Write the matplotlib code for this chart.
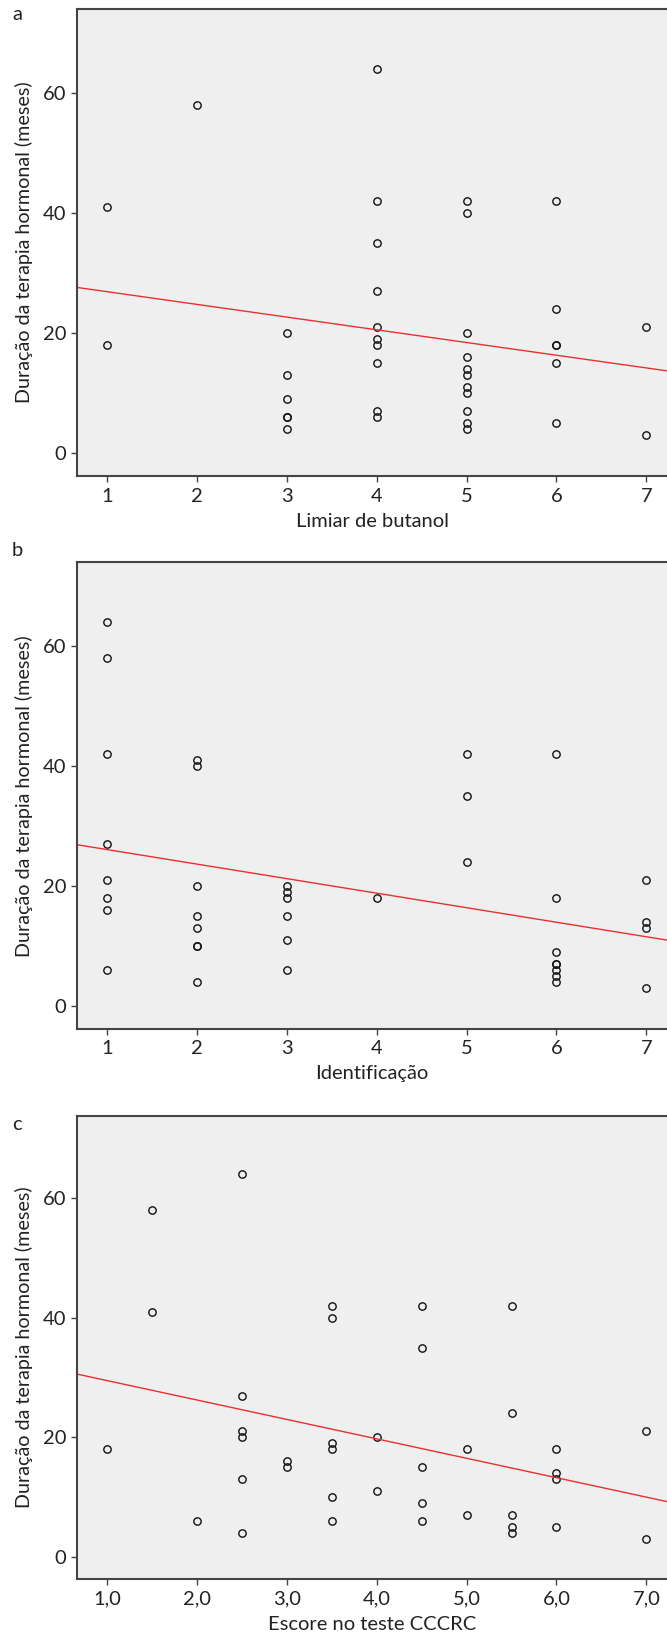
import numpy as np
import matplotlib
matplotlib.use("Agg")
import matplotlib.pyplot as plt

# panel a: Limiar de butanol
a_x = [1, 1, 2, 3, 3, 3, 3, 3, 3,
       4, 4, 4, 4, 4, 4, 4, 4, 4, 4,
       5, 5, 5, 5, 5, 5, 5, 5, 5, 5, 5,
       6, 6, 6, 6, 6, 6, 7, 7]
a_y = [41, 18, 58, 20, 13, 9, 6, 6, 4,
       64, 42, 35, 27, 21, 19, 18, 15, 7, 6,
       42, 40, 20, 16, 14, 13, 11, 10, 7, 5, 4,
       42, 24, 18, 18, 15, 5, 21, 3]

# panel b: Identificação
b_x = [1, 1, 1, 1, 1, 1, 1, 1,
       2, 2, 2, 2, 2, 2, 2, 2,
       3, 3, 3, 3, 3, 3, 4, 5, 5, 5,
       6, 6, 6, 6, 6, 6, 6, 6, 7, 7, 7, 7]
b_y = [64, 58, 42, 27, 21, 18, 16, 6,
       41, 40, 20, 15, 13, 10, 10, 4,
       20, 19, 18, 15, 11, 6, 18, 42, 35, 24,
       42, 18, 9, 7, 7, 6, 5, 4, 21, 14, 13, 3]

# panel c: Escore no teste CCCRC
c_x = [1.0, 1.5, 1.5, 2.0, 2.5, 2.5, 2.5, 2.5, 2.5, 2.5,
       3.0, 3.0, 3.5, 3.5, 3.5, 3.5, 3.5, 3.5, 4.0, 4.0,
       4.5, 4.5, 4.5, 4.5, 4.5, 5.0, 5.0, 5.5, 5.5, 5.5, 5.5, 5.5,
       6.0, 6.0, 6.0, 6.0, 7.0, 7.0]
c_y = [18, 58, 41, 6, 64, 27, 21, 20, 13, 4,
       16, 15, 42, 40, 19, 18, 10, 6, 20, 11,
       42, 35, 15, 9, 6, 18, 7, 42, 24, 7, 5, 4,
       18, 14, 13, 5, 21, 3]

# fit lines (intercept, slope)
fit_a = (29.0, -2.12)
fit_b = (28.5, -2.42)
fit_c = (32.75, -3.25)

xlabels = ["Limiar de butanol", "Identificação", "Escore no teste CCCRC"]
ylabel = "Duração da terapia hormonal (meses)"
panel_tags = ["a", "b", "c"]
int_ticks = [1, 2, 3, 4, 5, 6, 7]
dec_ticks = [1.0, 2.0, 3.0, 4.0, 5.0, 6.0, 7.0]
dec_labels = ["1,0", "2,0", "3,0", "4,0", "5,0", "6,0", "7,0"]
y_ticks = [0, 20, 40, 60]

plt.rcParams["font.family"] = ["Lato", "DejaVu Sans"]
FS = 14.5
TXT = "#222222"

W, H = 667, 1642
fig = plt.figure(figsize=(W / 100, H / 100), dpi=100)

# axes boxes in pixels: (left, top, bottom)
boxes = [(77.4, 8.6, 476.5), (77.4, 562.4, 1029.0), (77.4, 1115.5, 1579.3)]
tag_pos = [(17, 15), (17, 550), (17, 1124)]
ylims = [(-3.95, 74.1), (-3.8, 73.9), (-3.75, 73.85)]

panels = [(a_x, a_y, fit_a), (b_x, b_y, fit_b), (c_x, c_y, fit_c)]

for i, (xs, ys, fit) in enumerate(panels):
    left, top, bottom = boxes[i]
    ax = fig.add_axes([left / W, 1 - bottom / H, 1 - left / W, (bottom - top) / H])
    ax.set_facecolor("#efefef")
    ax.plot(xs, ys, linestyle="none", marker="o", markersize=5.3,
            markerfacecolor="none", markeredgecolor="#111111", markeredgewidth=1.0)
    xl = (0.67, 7.23)
    xx = np.array(xl)
    ax.plot(xx, fit[0] + fit[1] * xx, color="#e83030", lw=1.0)
    ax.set_xlim(*xl)
    ax.set_ylim(*ylims[i])
    ax.set_yticks(y_ticks)
    if i == 2:
        ax.set_xticks(dec_ticks)
        ax.set_xticklabels(dec_labels)
    else:
        ax.set_xticks(int_ticks)
    for s in ["left", "bottom", "top"]:
        ax.spines[s].set_color("#444444")
        ax.spines[s].set_linewidth(1.5)
    ax.spines["right"].set_visible(False)
    ax.tick_params(direction="out", length=4, width=1, color="#444444",
                   labelsize=FS, labelcolor=TXT, pad=4)
    ax.set_xlabel(xlabels[i], fontsize=FS, color=TXT, labelpad=6)
    ax.set_ylabel(ylabel, fontsize=14.2, color=TXT, va="center")
    ax.yaxis.set_label_coords((24 - left) / (W - left), 0.5)
    fig.text(tag_pos[i][0] / W, 1 - tag_pos[i][1] / H, panel_tags[i],
             fontsize=FS, color=TXT, ha="center", va="center")

fig.savefig("out.png", dpi=100)
